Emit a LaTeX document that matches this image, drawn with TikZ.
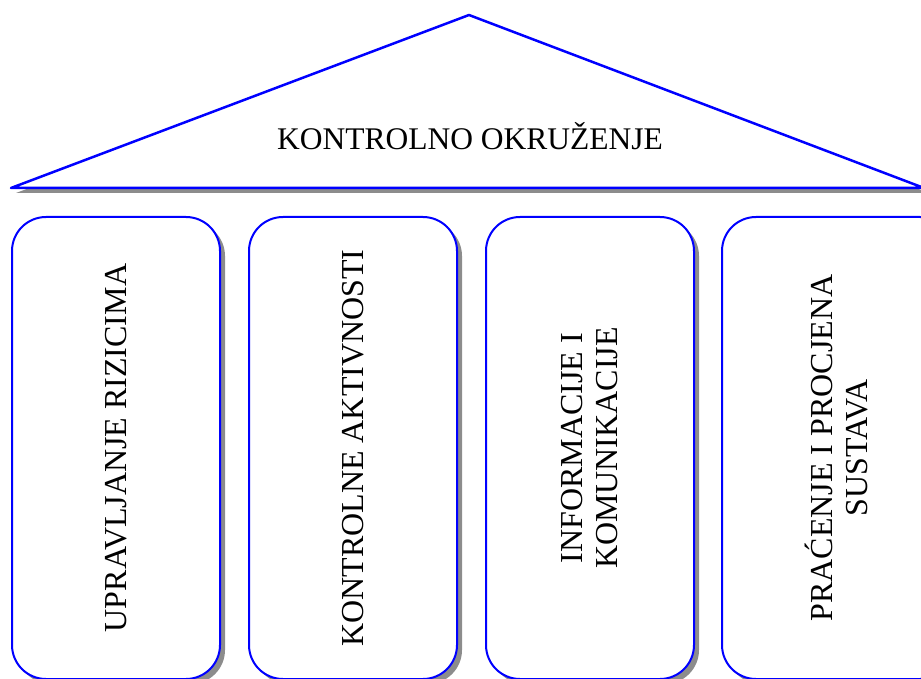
\documentclass[tikz,border=0pt]{standalone}
\usepackage{fontspec}
\setmainfont{Liberation Serif}
\usetikzlibrary{shadows}
\begin{document}
\begin{tikzpicture}[x=1pt, y=-1pt, line join=round,
	sjena/.style={drop shadow={shadow xshift=5pt, shadow yshift=-5pt, fill=black!45, opacity=1}},
	stup/.style={draw=blue, line width=2pt, fill=white, rounded corners=34pt, inner sep=0pt, minimum width=208pt, minimum height=462pt, anchor=north west, sjena},
	natpis/.style={rotate=90, align=center, inner sep=0pt, font=\fontsize{32}{35}\selectfont}]
	\def\w{921} \def\h{679}
	\useasboundingbox (0,0) rectangle (\w,\h);
	\clip (0,0) rectangle (\w,\h);
	% krov
	\coordinate (lijevo) at (11,188);
	\coordinate (vrh) at (469,15);
	\coordinate (desno) at (924,188);
	\draw[blue, line width=2.5pt, fill=white, sjena] (lijevo)--(vrh)--(desno)--cycle;
	\node[anchor=base, inner sep=0pt, font=\fontsize{31.5}{35}\selectfont] (krov) at (470,150) {KONTROLNO OKRUŽENJE};
	% stupovi
	\node[stup] (s1) at (11,216) {};
	\node[stup] (s2) at (248,216) {};
	\node[stup] (s3) at (485,216) {};
	\node[stup, minimum width=232pt] (s4) at (721,216) {};
	\node[natpis] (t1) at (s1.center) {UPRAVLJANJE RIZICIMA};
	\node[natpis] (t2) at (s2.center) {KONTROLNE AKTIVNOSTI};
	\node[natpis] (t3) at (s3.center) {INFORMACIJE I\\KOMUNIKACIJE};
	\node[natpis] (t4) at ([xshift=-2pt]s4.center) {PRAĆENJE I PROCJENA\\SUSTAVA};
\end{tikzpicture}
\end{document}
